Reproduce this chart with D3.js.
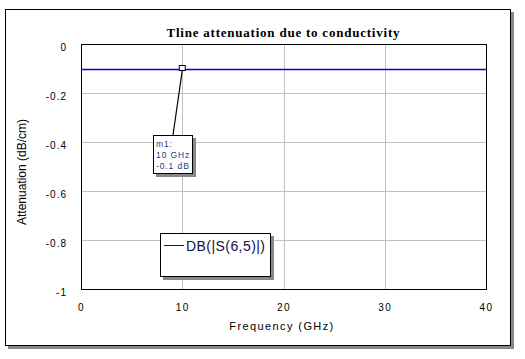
<!DOCTYPE html>
<html><head><meta charset="utf-8">
<script src="https://cdn.jsdelivr.net/npm/d3@7"></script>
<style>body{margin:0;background:#fff}svg{display:block}</style>
</head><body>
<svg id="c" width="525" height="359"></svg>
<script>
const freqGHz = [0, 5, 10, 15, 20, 25, 30, 35, 40];
const attenDB = [-0.1, -0.1, -0.1, -0.1, -0.1, -0.1, -0.1, -0.1, -0.1];
const xTicks = [0, 10, 20, 30, 40];
const yTicks = [0, -0.2, -0.4, -0.6, -0.8, -1];
const yTickLabels = ["0", "-0.2", "-0.4", "-0.6", "-0.8", "-1"];
const markerFreq = 10, markerVal = -0.1;
const markerLines = ["m1:", "10 GHz", "-0.1 dB"];
const legendLabel = "DB(|S(6,5)|)";
const title = "Tline attenuation due to conductivity";

const svg = d3.select("#c");
const L = 81, R = 486, T = 44, B = 289;
const x = d3.scaleLinear().domain([0, 40]).range([L, R]);
const y = d3.scaleLinear().domain([-1, 0]).range([B, T]);

// outer frame with shadow
svg.append("rect").attr("x", 8).attr("y", 12).attr("width", 506).attr("height", 337).attr("fill", "#888");
svg.append("rect").attr("x", 5.5).attr("y", 9.5).attr("width", 505).attr("height", 336).attr("fill", "#fff").attr("stroke", "#000");

// title
svg.append("text").attr("x", 283).attr("y", 37).attr("text-anchor", "middle")
  .attr("font-family", "Liberation Serif, Times New Roman, serif").attr("font-weight", "bold")
  .attr("font-size", 13).attr("textLength", 233).attr("lengthAdjust", "spacing").attr("fill", "#000").text(title);

// grid
const g = svg.append("g");
g.selectAll(".vx").data(xTicks.slice(1, -1)).enter().append("line")
  .attr("x1", d => Math.round(x(d)) + 0.5).attr("x2", d => Math.round(x(d)) + 0.5)
  .attr("y1", T).attr("y2", B).attr("stroke", "#c0c0c0");
g.selectAll(".hy").data(yTicks.slice(1, -1)).enter().append("line")
  .attr("y1", d => Math.round(y(d)) + 0.5).attr("y2", d => Math.round(y(d)) + 0.5)
  .attr("x1", L).attr("x2", R).attr("stroke", "#c0c0c0");

// data line
const line = d3.line().x((d, i) => x(freqGHz[i])).y(d => Math.round(y(d)) + 0.5);
svg.append("path").datum(attenDB).attr("d", line).attr("fill", "none").attr("stroke", "#0000dd").attr("stroke-width", 1.3);

// plot border
svg.append("rect").attr("x", L + 0.5).attr("y", T + 0.5).attr("width", R - L).attr("height", B - T)
  .attr("fill", "none").attr("stroke", "#000");

// axes tick labels
const xAxis = d3.axisBottom(x).tickValues(xTicks).tickSize(0).tickPadding(0);
const xa = svg.append("g").attr("transform", `translate(0,${B + 15})`).call(xAxis);
xa.select(".domain").remove();
xa.selectAll("text").attr("font-family", "Arial, Liberation Sans, sans-serif").attr("font-size", 10)
  .attr("letter-spacing", "1.5px").attr("fill", "#000").attr("dy", "0.71em");

const yAxis = d3.axisLeft(y).tickValues(yTicks).tickSize(0).tickPadding(0).tickFormat((d, i) => yTickLabels[i]);
const ya = svg.append("g").attr("transform", `translate(67,3)`).call(yAxis);
ya.select(".domain").remove();
ya.selectAll("text").attr("font-family", "Arial, Liberation Sans, sans-serif").attr("font-size", 10)
  .attr("letter-spacing", "1px").attr("fill", "#000");

// axis titles
svg.append("text").attr("x", 282).attr("y", 330).attr("text-anchor", "middle")
  .attr("font-family", "Arial, Liberation Sans, sans-serif").attr("font-size", 11)
  .attr("letter-spacing", "1.4px").attr("fill", "#000").text("Frequency (GHz)");
svg.append("text").attr("transform", "translate(26,172) rotate(-90)").attr("text-anchor", "middle")
  .attr("font-family", "Arial, Liberation Sans, sans-serif").attr("font-size", 12).attr("fill", "#000")
  .text("Attenuation (dB/cm)");

// marker
const mx = x(markerFreq), my = y(markerVal);
svg.append("line").attr("x1", mx).attr("y1", my + 2).attr("x2", 173).attr("y2", 135)
  .attr("stroke", "#000").attr("stroke-width", 1.2);
svg.append("rect").attr("x", mx - 3).attr("y", my - 3).attr("width", 6).attr("height", 5)
  .attr("fill", "#fff").attr("stroke", "#000");
svg.append("rect").attr("x", 156).attr("y", 138).attr("width", 40).attr("height", 39).attr("fill", "#888");
svg.append("rect").attr("x", 153.5).attr("y", 135.5).attr("width", 39).attr("height", 38).attr("fill", "#fff").attr("stroke", "#000");
svg.selectAll(".mt").data(markerLines).enter().append("text")
  .attr("x", 156).attr("y", (d, i) => 147 + i * 11)
  .attr("font-family", "Arial, Liberation Sans, sans-serif").attr("font-size", 8.5)
  .attr("letter-spacing", "0.9px").attr("fill", "#1a3a8a").text(d => d);

// legend
svg.append("rect").attr("x", 163).attr("y", 236).attr("width", 111).attr("height", 44).attr("fill", "#888");
svg.append("rect").attr("x", 160.5).attr("y", 233.5).attr("width", 110).attr("height", 43).attr("fill", "#fff").attr("stroke", "#000");
svg.append("line").attr("x1", 164).attr("x2", 184).attr("y1", 245.5).attr("y2", 245.5).attr("stroke", "#0000ff");
svg.append("text").attr("x", 186).attr("y", 251).attr("font-family", "Arial, Liberation Sans, sans-serif")
  .attr("font-size", 14).attr("textLength", 79).attr("lengthAdjust", "spacing").attr("fill", "#101050").text(legendLabel);
</script>
</body></html>
